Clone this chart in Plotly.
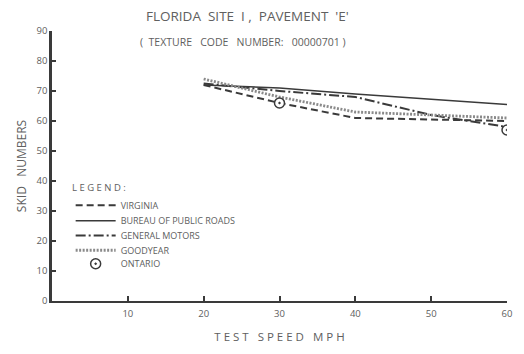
import plotly.graph_objects as go

speeds = [20, 30, 40, 50, 60]
virginia = [72, 66, 61, 60.5, 60]
bpr = [72, 71, 69, 67.3, 65.5]
gm = [72.5, 70, 68, 62, 58]
goodyear = [74, 68, 63, 62, 61]
ontario_speeds = [30, 60]
ontario = [66, 57]

x_ticks = [10, 20, 30, 40, 50, 60]
y_ticks = [0, 10, 20, 30, 40, 50, 60, 70, 80, 90]

ink = "#3a3a3a"
txt = "#606060"
font = "Open Sans"

fig = go.Figure()
fig.add_trace(go.Scatter(x=speeds, y=virginia, mode="lines", name="VIRGINIA", legend="legend",
                         line=dict(color=ink, width=2, dash="7px,4px")))
fig.add_trace(go.Scatter(x=speeds, y=bpr, mode="lines", name="BUREAU OF PUBLIC ROADS", legend="legend2",
                         line=dict(color=ink, width=1.6)))
fig.add_trace(go.Scatter(x=speeds, y=gm, mode="lines", name="GENERAL MOTORS", legend="legend3",
                         line=dict(color=ink, width=2, dash="10px,3px,2px,3px")))
fig.add_trace(go.Scatter(x=speeds, y=goodyear, mode="lines", name="GOODYEAR", legend="legend4",
                         line=dict(color="#8a8a8a", width=2.8, dash="2px,1.5px")))
fig.add_trace(go.Scatter(x=ontario_speeds, y=ontario, mode="markers", name="ONTARIO", legend="legend5",
                         marker=dict(symbol="circle-dot", size=10, color="white",
                                     line=dict(color=ink, width=1.5))))

leg_y = [0.355, 0.297, 0.243, 0.188, 0.138]
def leg(yv):
    return dict(x=0.041, y=yv, xanchor="left", yanchor="middle",
                bgcolor="rgba(0,0,0,0)", font=dict(size=9, color=txt),
                itemwidth=40)

fig.update_layout(
    width=516, height=346,
    margin=dict(l=41, r=13, t=23, b=45),
    paper_bgcolor="white", plot_bgcolor="white",
    font=dict(family=font, size=9, color=txt),
    showlegend=True,
    legend=leg(leg_y[0]), legend2=leg(leg_y[1]), legend3=leg(leg_y[2]),
    legend4=leg(leg_y[3]), legend5=leg(leg_y[4]),
    xaxis=dict(range=[0, 60], tickvals=x_ticks, showgrid=False, zeroline=False,
               showline=True, linecolor=ink, linewidth=2, ticks="inside",
               ticklen=5, tickcolor=ink, tickwidth=1.5, ticklabelstandoff=3,
               tickfont=dict(size=9.5, color=txt),
               title=dict(text="T E S T   S P E E D   M P H", font=dict(size=11.5, color=txt), standoff=14)),
    yaxis=dict(range=[0, 90], tickvals=y_ticks, showgrid=False, zeroline=False,
               showline=True, linecolor=ink, linewidth=2.5, ticks="inside",
               ticklen=4, tickcolor=ink, tickwidth=1.5,
               tickfont=dict(size=9.5, color=txt),
               title=dict(text="SKID   NUMBERS", font=dict(size=12, color=txt), standoff=8)),
    annotations=[
        dict(text="FLORIDA  SITE  I ,  PAVEMENT  'E'", xref="paper", yref="paper",
             x=0.429, y=1.0, yshift=15, xanchor="center", yanchor="middle",
             showarrow=False, font=dict(size=13.5, color=txt)),
        dict(text="(  TEXTURE   CODE   NUMBER:   00000701 )", xref="paper", yref="paper",
             x=0.19, y=0.96, xanchor="left", yanchor="middle",
             showarrow=False, font=dict(size=10.5, color=txt)),
        dict(text="L E G E N D :", xref="paper", yref="paper",
             x=(67 - 49) / 462, y=0.42, xanchor="left", yanchor="middle",
             showarrow=False, font=dict(size=9.5, color=txt)),
    ],
)

fig.write_html("out.html")
